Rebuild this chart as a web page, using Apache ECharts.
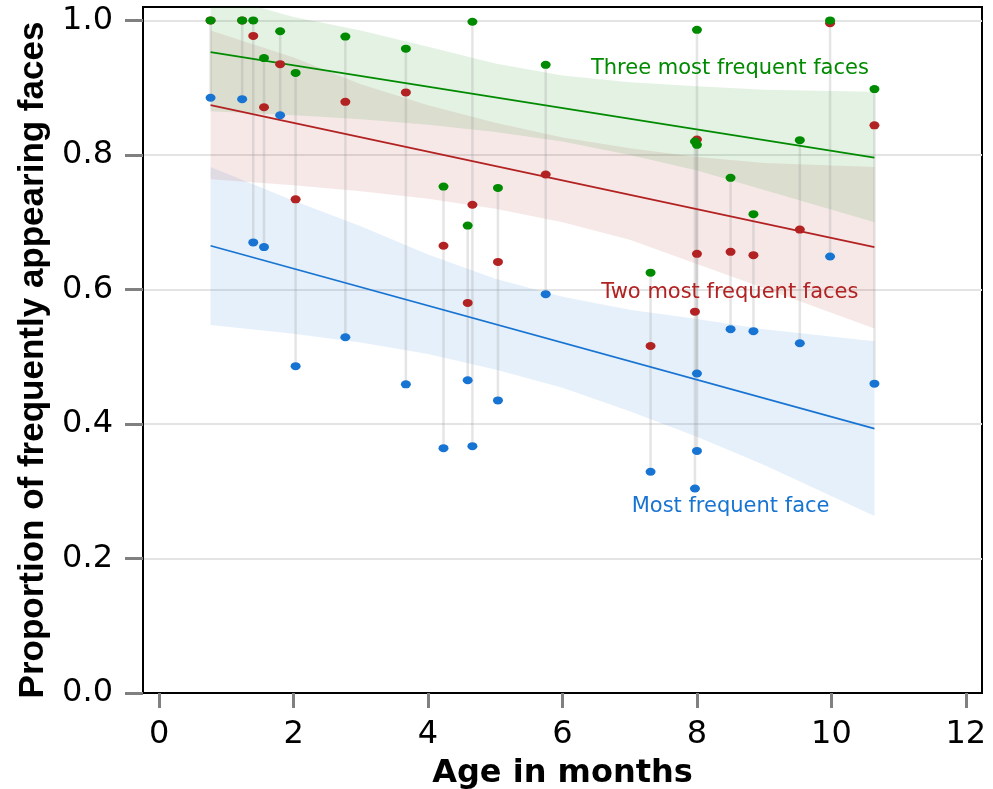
<!DOCTYPE html>
<html>
<head>
<meta charset="utf-8">
<script src="https://cdn.jsdelivr.net/npm/echarts@6/dist/echarts.min.js"></script>
<style>
html,body{margin:0;padding:0;background:#fff;}
#chart{width:993px;height:789px;}
</style>
</head>
<body>
<div id="chart"></div>
<script>
// ---- data ----
const ages          = [0.765, 1.235, 1.40, 1.56, 1.80, 2.03, 2.77, 3.67, 4.23, 4.59, 4.66, 5.04, 5.75, 7.31, 7.97, 8.00, 8.00, 8.50, 8.84, 9.53, 9.98, 10.64];
const mostFrequent  = [0.885, 0.883, 0.670, 0.663, 0.859, 0.486, 0.529, 0.459, 0.364, 0.465, 0.367, 0.435, 0.593, 0.329, 0.304, 0.475, 0.360, 0.541, 0.538, 0.520, 0.649, 0.460];
const twoMost       = [1.000, 1.000, 0.977, 0.871, 0.935, 0.734, 0.879, 0.893, 0.665, 0.580, 0.726, 0.641, 0.771, 0.516, 0.567, 0.823, 0.653, 0.656, 0.651, 0.689, 0.996, 0.844];
const threeMost     = [1.000, 1.000, 1.000, 0.944, 0.984, 0.922, 0.976, 0.958, 0.753, 0.695, 0.998, 0.751, 0.934, 0.625, 0.820, 0.986, 0.815, 0.766, 0.712, 0.822, 1.000, 0.898];

// fitted lines (endpoints)
const fitX          = [0.765, 10.64];
const fitMost       = [0.665, 0.393];
const fitTwo        = [0.874, 0.663];
const fitThree      = [0.953, 0.796];

// confidence bands
const bandX         = [0.765, 2, 3, 4, 5, 6, 7, 8, 9, 10.64];
const mostUpper     = [0.782, 0.732, 0.694, 0.652, 0.616, 0.589, 0.570, 0.556, 0.541, 0.523];
const mostLower     = [0.547, 0.534, 0.521, 0.504, 0.481, 0.454, 0.419, 0.381, 0.339, 0.263];
const twoUpper      = [0.985, 0.945, 0.905, 0.874, 0.848, 0.826, 0.810, 0.797, 0.788, 0.782];
const twoLower      = [0.764, 0.755, 0.746, 0.735, 0.720, 0.700, 0.674, 0.638, 0.602, 0.542];
const threeUpper    = [1.040, 1.005, 0.985, 0.961, 0.936, 0.918, 0.908, 0.902, 0.897, 0.894];
const threeLower    = [0.865, 0.859, 0.853, 0.845, 0.834, 0.820, 0.800, 0.777, 0.748, 0.700];

// tick labels
const xTicks        = [0, 2, 4, 6, 8, 10, 12];
const yTicks        = [0, 0.2, 0.4, 0.6, 0.8, 1.0];

// annotation texts and their anchors (data coordinates)
const seriesNames   = ['Most frequent face', 'Two most frequent faces', 'Three most frequent faces'];
const labelAge      = [8.50, 8.49, 8.49];
const labelValue    = [0.277, 0.596, 0.928];

// ---- styles ----
const C_BLUE = '#1874D2', C_RED = '#B22222', C_GREEN = '#008A00';
const F_BLUE = 'rgba(24,116,210,0.11)', F_RED = 'rgba(178,34,34,0.10)', F_GREEN = 'rgba(0,138,0,0.11)';

function bandSeries(upper, lower, fill, z) {
  return {
    type: 'custom', silent: true, z: z,
    data: [[bandX[0], upper[0]]],
    renderItem: function (params, api) {
      const pts = [];
      for (let i = 0; i < bandX.length; i++) pts.push(api.coord([bandX[i], upper[i]]));
      for (let i = bandX.length - 1; i >= 0; i--) pts.push(api.coord([bandX[i], lower[i]]));
      const cs = params.coordSys;
      return {
        type: 'polygon', shape: { points: pts }, style: { fill: fill },
        clipPath: { type: 'rect', shape: { x: cs.x, y: cs.y, width: cs.width, height: cs.height } }
      };
    }
  };
}

const connectorData = ages.map((a, i) => {
  const v = [mostFrequent[i], twoMost[i], threeMost[i]];
  return [a, Math.min.apply(null, v), Math.max.apply(null, v)];
});

function fitSeries(vals, color) {
  return {
    type: 'line', silent: true, z: 4, symbol: 'none',
    data: fitX.map((x, i) => [x, vals[i]]),
    lineStyle: { color: color, width: 1.8 }
  };
}
function pointSeries(vals, color, z) {
  return {
    type: 'scatter', silent: true, z: z,
    symbol: 'circle', symbolSize: [10, 8],
    data: ages.map((a, i) => [a, vals[i]]),
    itemStyle: { color: color, opacity: 1 }
  };
}

const labelColors = [C_BLUE, C_RED, C_GREEN];

const option = {
  animation: false,
  backgroundColor: '#fff',
  grid: { left: 143, right: 11, top: 7, bottom: 96, outerBoundsMode: 'none', containLabel: false,
    show: true, borderColor: '#000', borderWidth: 2, backgroundColor: 'transparent' },
  xAxis: {
    type: 'value', min: -0.24, max: 12.24, splitNumber: 6,
    name: 'Age in months', nameLocation: 'middle', nameGap: 65,
    nameTextStyle: { fontFamily: 'DejaVu Sans', fontWeight: 'bold', fontSize: 32, color: '#000' },
    axisLine: { show: true, onZero: false, lineStyle: { color: '#000', width: 2 } },
    axisTick: { show: true, customValues: xTicks, length: 15, lineStyle: { color: '#808080', width: 3 } },
    axisLabel: { customValues: xTicks, margin: 26, fontFamily: 'DejaVu Sans', fontSize: 32, color: '#000' },
    splitLine: { show: false }
  },
  yAxis: {
    type: 'value', min: 0, max: 1.02, interval: 0.2,
    name: 'Proportion of frequently appearing faces', nameLocation: 'middle', nameGap: 88, nameRotate: 90,
    nameTextStyle: { fontFamily: 'Liberation Sans', fontWeight: 'bold', fontSize: 35, color: '#000', padding: [0, 20, 0, 0] },
    axisLine: { show: true, onZero: false, lineStyle: { color: '#000', width: 2 } },
    axisTick: { show: true, customValues: yTicks, length: 18, lineStyle: { color: '#808080', width: 3 } },
    axisLabel: { customValues: yTicks, margin: 30, fontFamily: 'DejaVu Sans', fontSize: 32, color: '#000',
      formatter: v => v.toFixed(1) },
    splitLine: { show: true, lineStyle: { color: '#e4e4e4', width: 2 } }
  },
  series: [
    bandSeries(mostUpper, mostLower, F_BLUE, 1),
    bandSeries(twoUpper, twoLower, F_RED, 1),
    bandSeries(threeUpper, threeLower, F_GREEN, 1),
    {
      type: 'custom', silent: true, z: 3,
      data: connectorData,
      encode: { x: 0, y: [1, 2] },
      renderItem: function (params, api) {
        const p1 = api.coord([api.value(0), api.value(1)]);
        const p2 = api.coord([api.value(0), api.value(2)]);
        return { type: 'line', shape: { x1: p1[0], y1: p1[1], x2: p2[0], y2: p2[1] },
          style: { stroke: 'rgba(150,150,150,0.25)', lineWidth: 2.5 } };
      }
    },
    fitSeries(fitMost, C_BLUE),
    fitSeries(fitTwo, C_RED),
    fitSeries(fitThree, C_GREEN),
    pointSeries(mostFrequent, C_BLUE, 5),
    pointSeries(twoMost, C_RED, 6),
    pointSeries(threeMost, C_GREEN, 7),
    {
      type: 'scatter', silent: true, z: 8, symbolSize: 0,
      itemStyle: { opacity: 1 },
      data: seriesNames.map((n, i) => ({ name: n, value: [labelAge[i], labelValue[i]],
        label: { color: labelColors[i] } })),
      label: { show: true, position: 'inside', formatter: '{b}', fontFamily: 'DejaVu Sans', fontSize: 21, opacity: 1 }
    }
  ]
};

const chart = echarts.init(document.getElementById('chart'), null, { renderer: 'canvas' });
chart.setOption(option);
</script>
</body>
</html>
